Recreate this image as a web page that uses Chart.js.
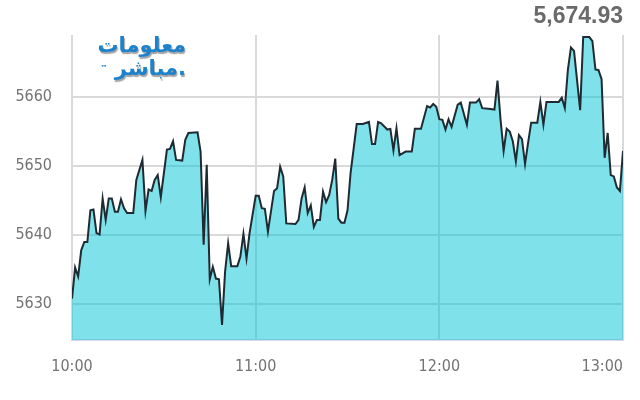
<!DOCTYPE html>
<html>
<head>
<meta charset="utf-8">
<script src="https://cdn.jsdelivr.net/npm/chart.js@4"></script>
<style>
  html, body { margin: 0; padding: 0; background: #ffffff; }
  #wrap { position: relative; width: 640px; height: 400px; overflow: hidden; }
  #chart { position: absolute; left: 0; top: 0; }
  #headline { position: absolute; right: 17px; top: 4px; font: bold 23px "Liberation Sans", Arial, sans-serif; color: #6a6a6a; line-height: 1; }
  #logo { position: absolute; left: 88px; top: 34px; width: 98px; font-family: "DejaVu Sans", sans-serif; font-weight: bold; color: #1c82cc; text-shadow: 1px 2px 1px rgba(90,90,90,0.55); text-align: right; }
  #logo .l1 { font-size: 21px; line-height: 22px; direction: rtl; }
  #logo .l2 { font-size: 21px; line-height: 24px; direction: ltr; }
  #logo .tm { font-size: 7px; vertical-align: top; color: #1c82cc; text-shadow: none; }
</style>
</head>
<body>
<div id="wrap">
  <canvas id="chart" width="640" height="400"></canvas>
  <div id="headline"></div>
  <div id="logo"><div class="l1">معلومات</div><div class="l2"><span class="tm">™</span> مباشر.</div></div>
</div>
<script>
const headline = '5,674.93';

const times = [
  '10:00','10:01','10:02','10:03','10:04','10:05','10:06','10:07','10:08','10:09',
  '10:10','10:11','10:12','10:13','10:14','10:15','10:16','10:17','10:18','10:20',
  '10:21','10:23','10:24','10:25','10:26','10:27','10:28','10:29','10:31','10:32',
  '10:33','10:34','10:36','10:37','10:38','10:41','10:42','10:43','10:44','10:45',
  '10:46','10:47','10:48','10:49','10:50','10:51','10:52','10:54','10:55','10:56',
  '10:57','10:58','11:00','11:01','11:02','11:03','11:04','11:06','11:07','11:08',
  '11:09','11:10','11:13','11:14','11:15','11:16','11:17','11:18','11:19','11:20',
  '11:21','11:22','11:23','11:24','11:25','11:26','11:27','11:28','11:29','11:30',
  '11:31','11:33','11:35','11:37','11:38','11:39','11:40','11:41','11:43','11:44',
  '11:45','11:46','11:47','11:49','11:51','11:52','11:54','11:56','11:57','11:58',
  '11:59','12:00','12:01','12:02','12:03','12:04','12:06','12:07','12:09','12:10',
  '12:12','12:13','12:14','12:16','12:18','12:19','12:20','12:21','12:22','12:23',
  '12:24','12:25','12:26','12:27','12:28','12:29','12:30','12:32','12:33','12:34',
  '12:35','12:39','12:40','12:41','12:42','12:43','12:44','12:46','12:47','12:49',
  '12:50','12:51','12:52','12:53','12:54','12:55','12:56','12:57','12:58','12:59',
  '13:00'
];

const values = [
  5630.8,5635.3,5634.0,5637.8,5639.0,5639.0,5643.6,5643.7,5640.3,5640.1,
  5645.3,5642.2,5645.3,5645.3,5643.4,5643.4,5645.2,5643.9,5643.2,5643.2,
  5648.0,5650.9,5643.5,5646.6,5646.4,5648.0,5648.7,5645.5,5652.4,5652.5,
  5653.6,5650.9,5650.8,5653.8,5654.8,5654.9,5652.1,5638.6,5650.2,5633.6,
  5635.4,5633.7,5633.6,5627.0,5634.7,5638.8,5635.5,5635.5,5636.9,5640.2,
  5636.6,5640.3,5645.7,5645.7,5643.9,5643.8,5640.5,5646.4,5646.8,5649.9,
  5648.5,5641.7,5641.6,5642.2,5645.3,5646.9,5643.2,5644.3,5641.2,5642.2,
  5642.2,5646.3,5644.8,5645.8,5648.0,5651.1,5642.4,5641.8,5641.8,5643.6,
  5649.0,5656.1,5656.1,5656.4,5653.2,5653.2,5656.4,5656.2,5655.3,5655.4,
  5652.3,5655.5,5651.6,5652.1,5652.1,5655.4,5655.4,5658.7,5658.5,5659.0,
  5658.6,5656.8,5656.7,5655.3,5656.8,5655.7,5658.9,5659.2,5656.0,5659.2,
  5659.2,5659.7,5658.4,5658.3,5658.2,5662.4,5656.7,5652.2,5655.4,5655.0,
  5653.6,5650.7,5654.5,5653.9,5650.3,5653.4,5656.3,5656.3,5659.3,5656.0,
  5659.3,5659.3,5659.9,5658.4,5664.0,5667.2,5666.7,5658.1,5668.7,5668.7,
  5668.1,5664.0,5663.9,5662.6,5651.2,5654.8,5648.7,5648.5,5646.9,5646.4,
  5652.2
];

const xTickLabels = ['10:00', '11:00', '12:00', '13:00'];
const yTickValues = [5630, 5640, 5650, 5660];

document.getElementById('headline').textContent = headline;

function toMin(t) { const p = t.split(':').map(Number); return (p[0] - 10) * 60 + p[1]; }
const points = times.map((t, i) => ({ x: toMin(t), y: values[i] }));

const axisFont = { family: '"DejaVu Sans Condensed", "Liberation Sans Narrow", sans-serif', size: 16 };
const gridColor = '#d9d9d9';

new Chart(document.getElementById('chart'), {
  type: 'line',
  data: {
    datasets: [{
      data: points,
      borderColor: '#1f2b33',
      borderWidth: 2,
      backgroundColor: 'rgba(0,197,215,0.5)',
      fill: 'start',
      tension: 0,
      pointRadius: 0,
      pointHoverRadius: 0
    }]
  },
  options: {
    responsive: false,
    animation: false,
    events: [],
    layout: { padding: { top: 35, right: 9, left: 0, bottom: 0 } },
    plugins: { legend: { display: false }, tooltip: { enabled: false }, title: { display: false } },
    scales: {
      x: {
        type: 'linear',
        min: -0.01,
        max: toMin(xTickLabels[xTickLabels.length - 1]),
        afterBuildTicks: s => { s.ticks = [{ value: s.min }].concat(xTickLabels.map(l => ({ value: toMin(l) }))); },
        afterFit: s => { s.height = 60; },
        ticks: {
          autoSkip: false,
          align: 'inner',
          maxRotation: 0,
          padding: 17,
          color: '#737373',
          font: axisFont,
          callback: (v, i) => i === 0 ? '' : xTickLabels[i - 1]
        },
        grid: { color: gridColor, lineWidth: 2, drawTicks: false },
        border: { display: true, color: '#dcd5ee', width: 2 }
      },
      y: {
        min: 5624.8,
        max: 5669.0,
        afterBuildTicks: s => { s.ticks = yTickValues.map(v => ({ value: v })); },
        afterFit: s => { s.width = 72; },
        ticks: {
          padding: 20,
          color: '#737373',
          font: axisFont,
          callback: v => String(v)
        },
        grid: { color: gridColor, lineWidth: 2, drawTicks: false },
        border: { display: false }
      }
    }
  }
});
</script>
</body>
</html>
